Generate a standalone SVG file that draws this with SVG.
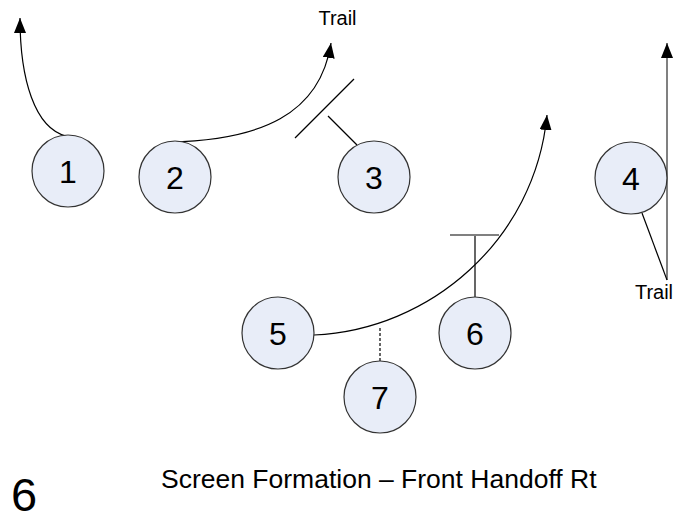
<svg xmlns="http://www.w3.org/2000/svg" width="693" height="517" viewBox="0 0 693 517">
<style>
.node circle{fill:#e8edf8;stroke:#333;stroke-width:1.2}
.node text{font-family:"Liberation Sans",Arial,sans-serif;font-size:32px;fill:#000;text-anchor:middle}
.route{fill:none;stroke:#000;stroke-width:1.2}
.gray{fill:none;stroke:#808080;stroke-width:2}
.lbl{font-family:"Liberation Sans",Arial,sans-serif;fill:#000}
</style>
<defs>
<marker id="ah" markerUnits="userSpaceOnUse" markerWidth="16" markerHeight="12" viewBox="0 0 16 12" refX="15" refY="6" orient="auto">
<path d="M0,0 L15,6 L0,12 Z" fill="#000"/>
</marker>
</defs>
<rect width="693" height="517" fill="#fff"/>
<g id="connectors">
<path class="route" d="M66,136 C35,128 20,80 20,18" marker-end="url(#ah)"/>
<path class="route" d="M170,142 C260,140 320,115 331,43" marker-end="url(#ah)"/>
<line class="route" x1="357" y1="145" x2="328" y2="116"/>
<line class="route" x1="354" y1="79" x2="295" y2="138"/>
<line class="gray" x1="667" y1="280" x2="667" y2="43" marker-end="url(#ah)"/>
<line class="route" x1="642" y1="213" x2="667" y2="280"/>
<path class="route" d="M314,335 C430,330 535,240 547,115" marker-end="url(#ah)"/>
<line class="route" x1="475" y1="297" x2="475" y2="235"/>
<line class="gray" x1="450" y1="235" x2="499" y2="235"/>
<line class="route" x1="380" y1="361" x2="380" y2="328" stroke-dasharray="3,2"/>
</g>
<g id="n1" class="node"><circle cx="68" cy="171" r="36"/><text x="68" y="182.5">1</text></g>
<g id="n2" class="node"><circle cx="175" cy="177" r="36"/><text x="175" y="188.5">2</text></g>
<g id="n3" class="node"><circle cx="374" cy="177" r="36"/><text x="374" y="188.5">3</text></g>
<g id="n4" class="node"><circle cx="631" cy="178" r="36"/><text x="631" y="189.5">4</text></g>
<g id="n5" class="node"><circle cx="278" cy="333" r="36"/><text x="278" y="344.5">5</text></g>
<g id="n6" class="node"><circle cx="475" cy="333" r="36"/><text x="475" y="344.5">6</text></g>
<g id="n7" class="node"><circle cx="380" cy="397" r="36"/><text x="380" y="408.5">7</text></g>
<text class="lbl" x="337.5" y="25" font-size="20" text-anchor="middle">Trail</text>
<text class="lbl" x="654" y="299" font-size="20" text-anchor="middle">Trail</text>
<text class="lbl" x="161" y="488" font-size="26.5">Screen Formation – Front Handoff Rt</text>
<text class="lbl" x="11" y="511" font-size="47">6</text>
</svg>
